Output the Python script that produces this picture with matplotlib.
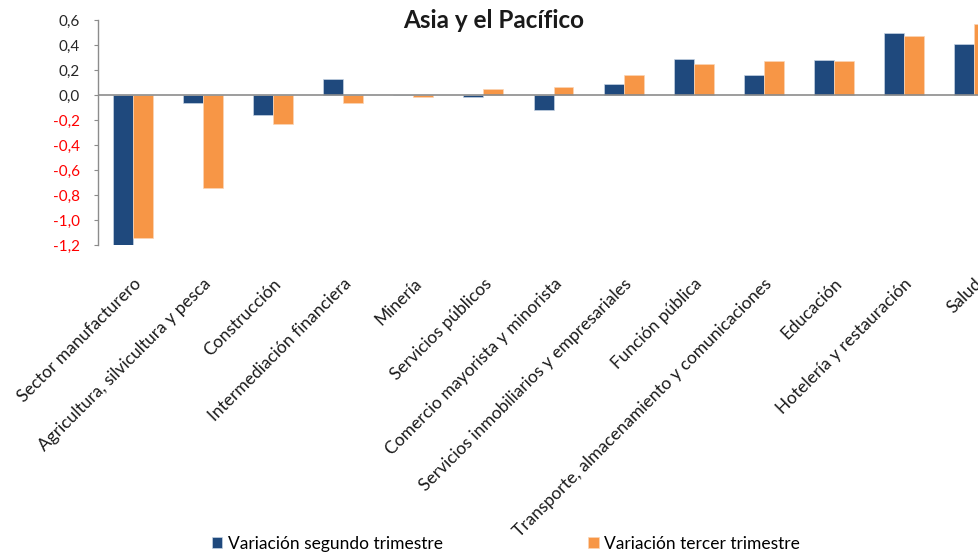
import numpy as np
import matplotlib
matplotlib.use("Agg")
from matplotlib import pyplot as plt
from matplotlib.ticker import FixedLocator, FuncFormatter

plt.rcParams['font.family'] = ['Lato', 'DejaVu Sans']

sectores = ["Sector manufacturero", "Agricultura, silvicultura y pesca", "Construcción",
            "Intermediación financiera", "Minería", "Servicios públicos",
            "Comercio mayorista y minorista", "Servicios inmobiliarios y empresariales",
            "Función pública", "Transporte, almacenamiento y comunicaciones",
            "Educación", "Hotelería y restauración", "Salud"]
var_t2 = [-1.22, -0.06, -0.16, 0.13, 0.0, -0.016, -0.12, 0.09, 0.29, 0.16, 0.28, 0.50, 0.41]
var_t3 = [-1.14, -0.74, -0.23, -0.06, -0.015, 0.045, 0.065, 0.16, 0.25, 0.27, 0.27, 0.47, 0.57]
yticks = [-1.2, -1.0, -0.8, -0.6, -0.4, -0.2, 0.0, 0.2, 0.4, 0.6]

azul = "#1f497d"
naranja = "#f79646"

W, H = 979, 553
fig = plt.figure(figsize=(W / 100, H / 100), dpi=100)
# the plot runs past the right edge in the original, so the axes do too
ax = fig.add_axes([98 / W, (H - 245) / H, (1009 - 98) / W, 225 / H])

x = np.arange(len(sectores))
w = 0.285
ax.bar(x - w / 2, var_t2, w, color=azul, edgecolor="#c6d3e3", linewidth=0.5,
       label="Variación segundo trimestre")
ax.bar(x + w / 2, var_t3, w, color=naranja, edgecolor="#fbd5b5", linewidth=0.5,
       label="Variación tercer trimestre")

ax.set_xlim(-0.5, len(sectores) - 0.5)
ax.set_ylim(-1.2, 0.6)
ax.axhline(0, color="#8c8c8c", linewidth=1.2, zorder=3)

for s in ["top", "right", "bottom"]:
    ax.spines[s].set_visible(False)
ax.spines["left"].set_color("#8c8c8c")
ax.spines["left"].set_linewidth(1.0)

ax.yaxis.set_major_locator(FixedLocator(yticks))
ax.yaxis.set_major_formatter(FuncFormatter(lambda v, p: f"{v:.1f}".replace(".", ",")))
ax.tick_params(axis="y", length=3, color="#8c8c8c", labelsize=11, pad=10)
for lab, v in zip(ax.get_yticklabels(), yticks):
    lab.set_color("#ff0000" if v < 0 else "#262626")

ax.set_xticks(x)
ax.set_xticklabels(sectores, rotation=45, ha="right", rotation_mode="anchor", fontsize=12.5)
ax.tick_params(axis="x", length=0, pad=22)
for lab in ax.get_xticklabels():
    lab.set_color("#1a1a1a")

fig.text(494 / W, 1 - 20 / H, "Asia y el Pacífico", ha="center", va="center",
         fontsize=17.5, fontweight="bold", color="#1a1a1a")

fig.legend(loc="lower center", bbox_to_anchor=(506 / W, -0.026), ncol=2, frameon=False,
           fontsize=12.5, handlelength=0.6, handleheight=0.6, handletextpad=0.3,
           columnspacing=8.4)

fig.savefig("out.png", dpi=100)
